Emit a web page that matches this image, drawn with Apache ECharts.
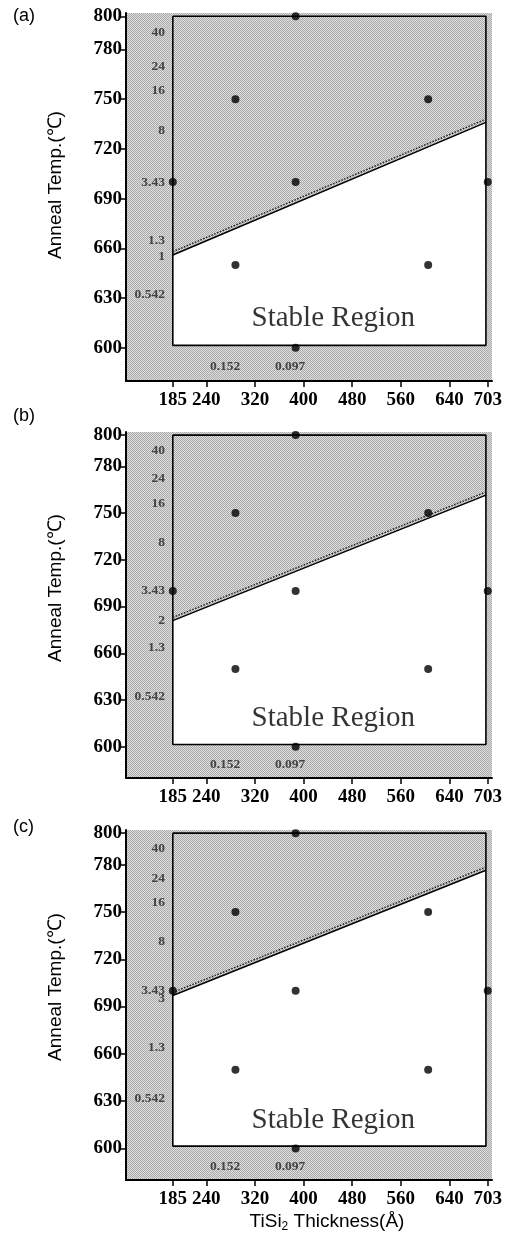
<!DOCTYPE html>
<html>
<head>
<meta charset="utf-8">
<script src="https://cdn.jsdelivr.net/npm/echarts@6/dist/echarts.min.js"></script>
<style>
  html, body { margin: 0; padding: 0; background: #fff; }
  #chart { width: 510px; height: 1243px; }
</style>
</head>
<body>
<div id="chart"></div>
<script>
// 数据
const panelNames = ['(a)', '(b)', '(c)'];
const xTicks = [185, 240, 320, 400, 480, 560, 640, 703];
const yTicks = [600, 630, 660, 690, 720, 750, 780, 800];

// 实验点 (厚度, 温度)
const sampleX = [185, 288, 288, 387, 387, 387, 605, 605, 703];
const sampleY = [700, 750, 650, 800, 700, 600, 750, 650, 700];

// 稳定区边界 (左端, 右端)
const boundaryA = [[185, 656], [700, 736]];
const boundaryB = [[185, 681], [700, 761.5]];
const boundaryC = [[185, 697], [700, 776.5]];

// 外框
const frameX = [185, 185, 700, 700, 185];
const frameY = [800, 601.5, 601.5, 800, 800];

// 左侧数字标注
const sideTextA = ['40', '24', '16', '8', '3.43', '1.3', '1', '0.542'];
const sideYA = [790, 770, 755, 731, 700, 664.5, 655, 632];
const sideTextB = ['40', '24', '16', '8', '3.43', '2', '1.3', '0.542'];
const sideYB = [790, 772, 756, 731, 700, 681, 664, 632];
const sideTextC = ['40', '24', '16', '8', '3.43', '3', '1.3', '0.542'];
const sideYC = [790.5, 771, 756, 731, 700, 695, 664, 632];
const sideX = 172;

// 底部数字标注
const bottomText = ['0.152', '0.097'];
const bottomX = [271, 378];
const bottomY = 588.5;

const regionText = 'Stable Region';
const regionPos = [449, 618];

const boundaries = [boundaryA, boundaryB, boundaryC];
const sideTexts = [sideTextA, sideTextB, sideTextC];
const sideYs = [sideYA, sideYB, sideYC];

// 布局
const grids = [
  { left: 126, top: 13, width: 366, height: 368 },
  { left: 126, top: 432, width: 366, height: 346 },
  { left: 126, top: 830, width: 366, height: 350 }
];
const nameCenterY = [185, 588, 987];
const panelLabelY = [17, 417, 828];

// 网点灰底
const tex = document.createElement('canvas');
tex.width = 2; tex.height = 2;
const tctx = tex.getContext('2d');
tctx.fillStyle = '#dedede';
tctx.fillRect(0, 0, 2, 2);
tctx.fillStyle = '#aaaaaa';
tctx.fillRect(0, 0, 1, 1);
tctx.fillRect(1, 1, 1, 1);
const grayFill = { image: tex, repeat: 'repeat' };

const serif = 'Liberation Serif';

function panelSeries(i) {
  const b = boundaries[i];
  const poly = [[185, 601.5], [700, 601.5], b[1], b[0]];
  const common = { xAxisIndex: i, yAxisIndex: i, silent: true };
  return [
    Object.assign({
      type: 'custom', z: 1, data: [0],
      renderItem: function (params, api) {
        return {
          type: 'polygon',
          shape: { points: poly.map(p => api.coord(p)) },
          style: { fill: '#ffffff' }
        };
      }
    }, common),
    Object.assign({
      type: 'line', z: 3, symbol: 'none',
      data: frameX.map((x, k) => [x, frameY[k]]),
      lineStyle: { color: '#000', width: 1.6 }
    }, common),
    Object.assign({
      type: 'line', z: 3, symbol: 'none',
      data: b.map(p => [p[0], p[1] + 2]),
      lineStyle: { color: '#222', width: 1.5, type: 'dotted' }
    }, common),
    Object.assign({
      type: 'line', z: 3, symbol: 'none',
      data: b,
      lineStyle: { color: '#000', width: 1.5 }
    }, common),
    Object.assign({
      type: 'scatter', z: 5, symbolSize: 8,
      data: sampleX.map((x, k) => [x, sampleY[k]]),
      itemStyle: { color: '#000' }
    }, common),
    Object.assign({
      type: 'scatter', z: 4, symbolSize: 0,
      data: sideTexts[i].map((t, k) => [sideX, sideYs[i][k], t]),
      label: {
        show: true, position: 'inside', align: 'right', verticalAlign: 'middle',
        formatter: p => p.value[2],
        fontFamily: serif, fontWeight: 'bold', fontSize: 13.5, color: '#222'
      }
    }, common),
    Object.assign({
      type: 'scatter', z: 4, symbolSize: 0,
      data: bottomText.map((t, k) => [bottomX[k], bottomY, t]),
      label: {
        show: true, position: 'inside',
        formatter: p => p.value[2],
        fontFamily: serif, fontWeight: 'bold', fontSize: 13.5, color: '#222'
      }
    }, common),
    Object.assign({
      type: 'scatter', z: 4, symbolSize: 0,
      data: [[regionPos[0], regionPos[1], regionText]],
      label: {
        show: true, position: 'inside',
        formatter: p => p.value[2],
        fontFamily: serif, fontSize: 29, color: '#000'
      }
    }, common)
  ];
}

const option = {
  animation: false,
  backgroundColor: '#fff',
  grid: grids.map(g => Object.assign({
    show: true, backgroundColor: grayFill, borderWidth: 0
  }, g)),
  xAxis: grids.map((g, i) => ({
    type: 'value', gridIndex: i, min: 108, max: 710,
    splitLine: { show: false },
    axisLine: { lineStyle: { color: '#000', width: 2 } },
    axisTick: { customValues: xTicks, length: 6, lineStyle: { color: '#000', width: 1.5 } },
    axisLabel: {
      customValues: xTicks, margin: 10,
      fontFamily: serif, fontWeight: 'bold', fontSize: 19, color: '#000'
    }
  })),
  yAxis: grids.map((g, i) => ({
    type: 'value', gridIndex: i, min: 580, max: 802,
    splitLine: { show: false },
    axisLine: { lineStyle: { color: '#000', width: 2 } },
    axisTick: { customValues: yTicks, length: 6, lineStyle: { color: '#000', width: 1.5 } },
    axisLabel: {
      customValues: yTicks, margin: 4,
      fontFamily: serif, fontWeight: 'bold', fontSize: 19, color: '#000'
    }
  })),
  graphic: [].concat(
    panelNames.map((t, i) => ({
      type: 'text', left: 13, top: panelLabelY[i] - 10,
      style: { text: t, fontFamily: 'Liberation Sans', fontSize: 18, fill: '#000' }
    })),
    nameCenterY.map(y => ({
      type: 'text', x: 56, y: y, rotation: Math.PI / 2,
      style: {
        text: 'Anneal Temp.(℃)', fontFamily: 'Liberation Sans', fontSize: 19,
        fill: '#000', align: 'center', verticalAlign: 'middle'
      }
    })),
    [{
      type: 'text', x: 327, y: 1222,
      style: {
        text: 'TiSi{s|2} Thickness(Å)', fontFamily: 'Liberation Sans', fontSize: 19,
        fill: '#000', align: 'center', verticalAlign: 'middle',
        rich: { s: { fontSize: 12, fontFamily: 'Liberation Sans', padding: [10, 0, 0, 0] } }
      }
    }]
  ),
  series: [].concat(panelSeries(0), panelSeries(1), panelSeries(2))
};

const chart = echarts.init(document.getElementById('chart'));
chart.setOption(option);
</script>
</body>
</html>
